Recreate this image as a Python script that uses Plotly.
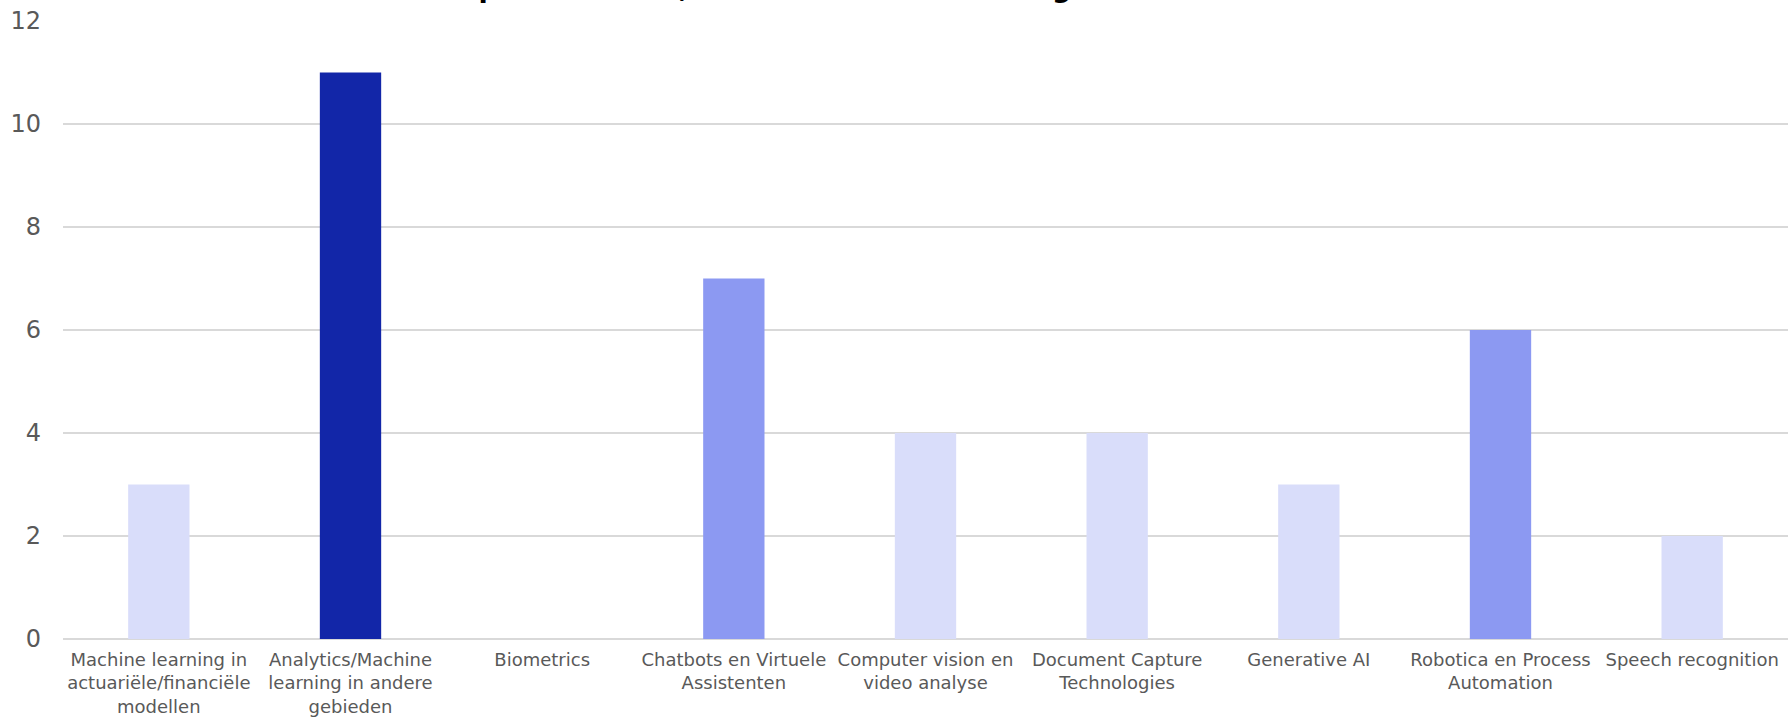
import plotly.graph_objects as go

categories = [
    "Machine learning in<br>actuariële/financiële<br>modellen",
    "Analytics/Machine<br>learning in andere<br>gebieden",
    "Biometrics",
    "Chatbots en Virtuele<br>Assistenten",
    "Computer vision en<br>video analyse",
    "Document Capture<br>Technologies",
    "Generative AI",
    "Robotica en Process<br>Automation",
    "Speech recognition",
]
values = [3, 11, 0, 7, 4, 4, 3, 6, 2]
y_ticks = [0, 2, 4, 6, 8, 10, 12]
title_text = "Aantal implementaties, verdeeld naar technologie"

LIGHT, MID, DARK = "#D9DDFA", "#8C99F2", "#1226A8"
bar_colors = [DARK if v >= 10 else (MID if v >= 5 else LIGHT) for v in values]

W, H = 1788, 718
ML, MR, MT, MB = 63, 0, 21, 79
FONT = "Verdana, DejaVu Sans, sans-serif"

fig = go.Figure(
    go.Bar(
        x=categories,
        y=values,
        marker=dict(color=bar_colors, line=dict(width=0)),
        hoverinfo="x+y",
    )
)

plot_h = H - MT - MB
plot_w = W - ML - MR
fig.add_annotation(
    text="<b>" + title_text + "</b>",
    xref="paper", yref="paper",
    x=(331 - ML) / plot_w, xanchor="left",
    y=1 + (MT - 5) / plot_h, yanchor="bottom",
    showarrow=False,
    font=dict(family=FONT, size=27, color="#000000"),
)

fig.update_layout(
    width=W, height=H,
    margin=dict(l=ML, r=MR, t=MT, b=MB, pad=0),
    paper_bgcolor="white", plot_bgcolor="white",
    bargap=0.68,
    showlegend=False,
    font=dict(family=FONT, color="#595959"),
)
fig.update_xaxes(
    showgrid=False, zeroline=False, showline=False,
    ticks="", tickangle=0,
    ticklabelstandoff=8,
    tickfont=dict(family=FONT, size=18, color="#595959"),
    automargin=False,
)
fig.update_yaxes(
    range=[0, 12], tickvals=y_ticks,
    showgrid=True, gridcolor="#D9D9D9", gridwidth=1.5,
    zeroline=True, zerolinecolor="#D9D9D9", zerolinewidth=2,
    showline=False, ticks="",
    ticklabelstandoff=21,
    tickfont=dict(family=FONT, size=24, color="#595959"),
    automargin=False,
)

fig.write_html(
    "out.html",
    config={"displayModeBar": False},
    post_script="document.body.style.margin='0';",
)
